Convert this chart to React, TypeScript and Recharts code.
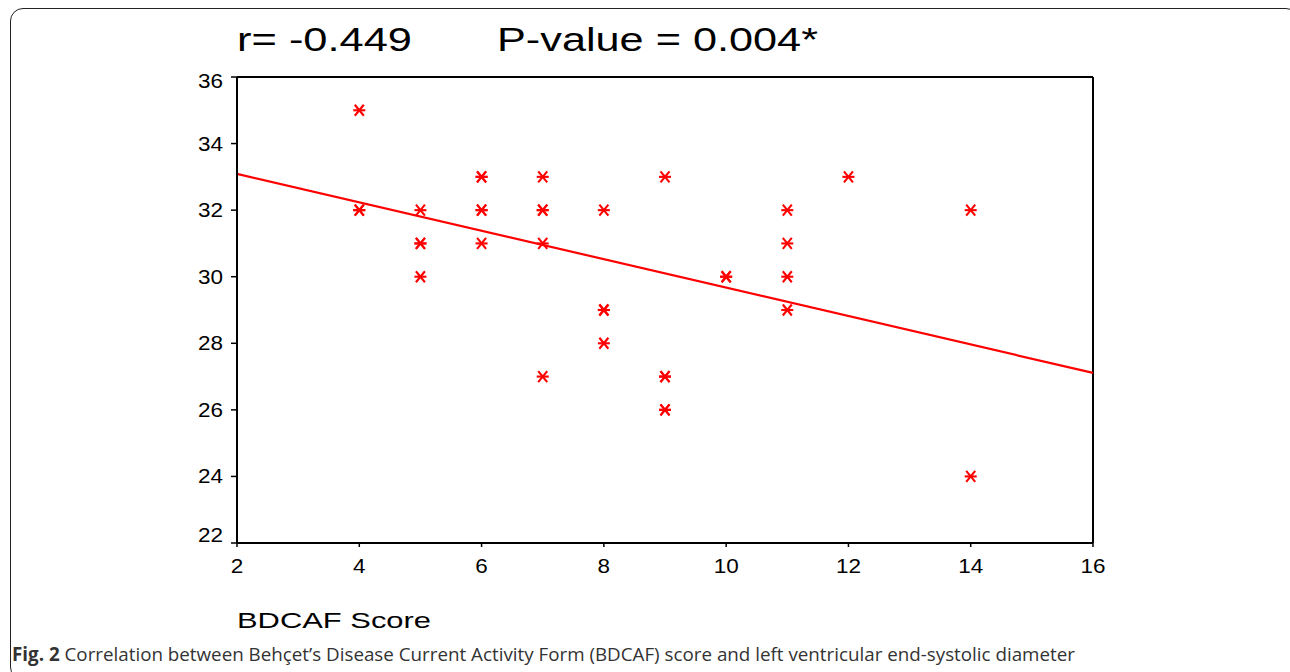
import React from "react";
import {
  ScatterChart,
  Scatter,
  XAxis,
  YAxis,
  ReferenceLine,
} from "recharts";

// BDCAF score (x) vs LV end-systolic diameter (y)
const bdcafScores = [
  4, 4, 4,
  5, 5, 5, 5,
  6, 6, 6, 6, 6,
  7, 7, 7, 7, 7,
  8, 8, 8, 8,
  9, 9, 9, 9, 9,
  10, 10,
  11, 11, 11, 11,
  12,
  14, 14,
];
const lvesdValues = [
  35, 32, 32,
  32, 31, 31, 30,
  33, 33, 32, 32, 31,
  33, 32, 32, 31, 27,
  32, 29, 29, 28,
  33, 27, 27, 26, 26,
  30, 30,
  32, 31, 30, 29,
  33,
  32, 24,
];

// Fitted regression line endpoints
const fitX = [2, 16];
const fitY = [33.09, 27.11];

const xTicks = [2, 4, 6, 8, 10, 12, 14, 16];
const yTicks = [22, 24, 26, 28, 30, 32, 34, 36];

const titleLeft = "r= -0.449";
const titleRight = "P-value = 0.004*";
const xAxisTitle = "BDCAF Score";
const captionBold = "Fig. 2";
const captionText =
  " Correlation between Behçet’s Disease Current Activity Form (BDCAF) score and left ventricular end-systolic diameter";

const points = bdcafScores.map((x, i) => ({ x, y: lvesdValues[i] }));

const FONT = "'Liberation Sans', Arial, Helvetica, sans-serif";
const RED = "#ff0000";

const Asterisk = (props: any) => {
  const { cx, cy } = props;
  if (cx == null || cy == null) return <g />;
  return (
    <g stroke={RED} strokeWidth={2.1} fill="none">
      <line x1={cx - 6} y1={cy} x2={cx + 6} y2={cy} />
      <line x1={cx - 4.5} y1={cy - 5.5} x2={cx + 4.5} y2={cy + 5.5} />
      <line x1={cx - 4.5} y1={cy + 5.5} x2={cx + 4.5} y2={cy - 5.5} />
    </g>
  );
};

const YTick = (props: any) => {
  const { x, y, payload } = props;
  const s = String(payload.value);
  let dy = 7;
  if (payload.value === 36) dy = 11;
  if (payload.value === 22) dy = -1;
  return (
    <text
      x={x - 6}
      y={y + dy}
      textAnchor="end"
      fontFamily={FONT}
      fontSize={19.5}
      fill="#000"
      textLength={s.length * 12.5}
      lengthAdjust="spacingAndGlyphs"
    >
      {s}
    </text>
  );
};

const XTick = (props: any) => {
  const { x, y, payload } = props;
  const s = String(payload.value);
  return (
    <text
      x={x}
      y={y + 24}
      textAnchor="middle"
      fontFamily={FONT}
      fontSize={19.5}
      fill="#000"
      textLength={s.length * 12.5}
      lengthAdjust="spacingAndGlyphs"
    >
      {s}
    </text>
  );
};

const XLabel = (props: any) => {
  const vb = props.viewBox || { x: 0, y: 0 };
  return (
    <text
      x={vb.x}
      y={vb.y + 85}
      fontFamily={FONT}
      fontSize={22.5}
      fill="#000"
      textLength={194}
      lengthAdjust="spacingAndGlyphs"
    >
      {xAxisTitle}
    </text>
  );
};

export default function App() {
  return (
    <div
      style={{
        position: "fixed",
        left: 0,
        top: 0,
        width: 1290,
        height: 672,
        overflow: "hidden",
        background: "#fff",
      }}
    >
      <div
        style={{
          position: "absolute",
          left: 10,
          top: 8,
          width: 1289,
          height: 672,
          border: "1.5px solid #222",
          borderRadius: 13,
          boxSizing: "border-box",
        }}
      />
      <svg
        width={1290}
        height={80}
        style={{ position: "absolute", left: 0, top: 0 }}
      >
        <text
          x={237}
          y={51}
          fontFamily={FONT}
          fontSize={33}
          fill="#000"
          textLength={175}
          lengthAdjust="spacingAndGlyphs"
        >
          {titleLeft}
        </text>
        <text
          x={497}
          y={51}
          fontFamily={FONT}
          fontSize={33}
          fill="#000"
          textLength={321}
          lengthAdjust="spacingAndGlyphs"
        >
          {titleRight}
        </text>
      </svg>
      <div style={{ position: "absolute", left: 0, top: 0 }}>
        <ScatterChart
          width={1290}
          height={672}
          margin={{ top: 77, right: 197, bottom: 89, left: 177 }}
        >
          <XAxis
            type="number"
            dataKey="x"
            domain={[2, 16]}
            ticks={xTicks}
            interval={0}
            height={40}
            axisLine={{ stroke: "#000", strokeWidth: 2 }}
            tickLine={{ stroke: "#000", strokeWidth: 1.5 }}
            tickSize={4}
            tick={<XTick />}
            label={<XLabel />}
          />
          <YAxis
            type="number"
            dataKey="y"
            domain={[22, 36]}
            ticks={yTicks}
            interval={0}
            width={60}
            axisLine={{ stroke: "#000", strokeWidth: 2 }}
            tickLine={{ stroke: "#000", strokeWidth: 1.5 }}
            tickSize={6}
            tick={<YTick />}
          />
          <ReferenceLine y={36} stroke="#000" strokeWidth={2} />
          <ReferenceLine x={16} stroke="#000" strokeWidth={2} />
          <ReferenceLine
            segment={[
              { x: fitX[0], y: fitY[0] },
              { x: fitX[1], y: fitY[1] },
            ]}
            stroke={RED}
            strokeWidth={2.2}
          />
          <Scatter
            data={points}
            shape={<Asterisk />}
            isAnimationActive={false}
          />
        </ScatterChart>
      </div>
      <div
        style={{
          position: "absolute",
          left: 12,
          top: 641,
          fontFamily: "'Open Sans', 'Noto Sans', sans-serif",
          fontSize: 18.8,
          lineHeight: "26px",
          color: "#333",
          whiteSpace: "nowrap",
        }}
      >
        <b>{captionBold}</b>
        {captionText}
      </div>
    </div>
  );
}
